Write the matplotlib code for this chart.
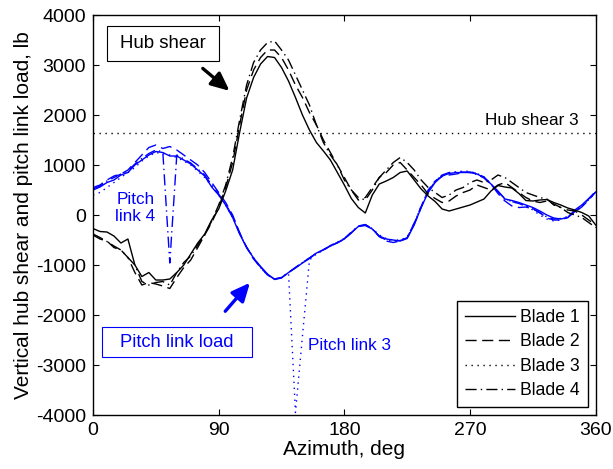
import numpy as np
import matplotlib
matplotlib.use("Agg")
import matplotlib.pyplot as plt
from matplotlib.patches import Rectangle

plt.rcParams['font.family'] = ['Liberation Sans', 'DejaVu Sans']
plt.rcParams['axes.unicode_minus'] = False

# azimuth grid, deg
azimuth = np.arange(0, 361, 5)

# vertical hub shear, lb (blade 3 only available as a constant level)
hub_blade1 = [-270, -330, -340, -420, -560, -480, -1000, -1230, -1150, -1300,
              -1300, -1280, -1150, -1000, -780, -560, -380, -100, 120, 480,
              900, 1650, 2340, 2750, 3020, 3170, 3150, 2950, 2680, 2350,
              2000, 1700, 1450, 1280, 1100, 850, 600, 330, 150, 40,
              400, 620, 680, 750, 850, 880, 700, 520, 380, 270,
              120, 80, 120, 160, 200, 260, 320, 480, 590, 560,
              540, 430, 290, 280, 300, 310, 250, 200, 140, 100,
              50, -20, -200]
hub_blade2 = [-400, -480, -520, -650, -700, -850, -1150, -1400, -1350, -1380,
              -1420, -1470, -1250, -1050, -900, -650, -400, -150, 150, 550,
              1050, 1800, 2500, 2900, 3150, 3300, 3300, 3150, 2900, 2600,
              2350, 2050, 1800, 1500, 1250, 1000, 750, 500, 300, 350,
              550, 750, 850, 1000, 1050, 900, 750, 600, 420, 330,
              250, 280, 380, 450, 500, 600, 550, 500, 600, 650,
              550, 450, 350, 280, 250, 280, 220, 150, 100, 80,
              0, -100, -200]
hub_blade3 = 1650
hub_blade4 = [-380, -450, -530, -620, -700, -850, -1000, -1330, -1400, -1350,
              -1330, -1400, -1150, -950, -820, -600, -400, -120, 200, 600,
              1150, 1900, 2600, 3050, 3300, 3450, 3480, 3300, 3100, 2800,
              2500, 2200, 1800, 1450, 1200, 1000, 700, 500, 350, 300,
              500, 750, 900, 1050, 1150, 1050, 900, 700, 550, 450,
              350, 400, 500, 550, 650, 700, 650, 700, 800, 750,
              650, 550, 450, 400, 350, 320, 200, 150, 50, 0,
              -50, -150, -250]

# pitch link load, lb
pl_blade1 = [500, 560, 650, 700, 800, 850, 1000, 1100, 1200, 1270,
             1250, 1180, 1180, 1100, 1020, 900, 780, 560, 400, 200,
             -50, -380, -650, -860, -1030, -1180, -1290, -1260, -1150, -1060,
             -960, -870, -760, -700, -620, -550, -480, -350, -230, -210,
             -280, -420, -480, -500, -520, -470, -200, 150, 450, 650,
             780, 830, 850, 850, 850, 820, 750, 620, 480, 320,
             290, 250, 200, 150, 80, 0, -60, -80, -50, 100,
             200, 330, 460]
pl_blade2 = [550, 600, 700, 780, 820, 900, 1050, 1200, 1350, 1400,
             1330, 1370, 1300, 1200, 1100, 1000, 850, 650, 450, 250,
             0, -350, -650, -880, -1050, -1200, -1280, -1250, -1150, -1050,
             -950, -860, -770, -690, -620, -560, -480, -360, -220, -190,
             -270, -430, -520, -550, -520, -450, -180, 150, 500, 680,
             770, 800, 820, 850, 860, 830, 760, 620, 430, 280,
             180, 150, 160, 120, 50, -60, -100, -100, -50, 60,
             160, 300, 460]
pl_blade3 = [400, 450, 550, 650, 750, 850, 950, 1080, 1180, 1250,
             1230, 1200, 1150, 1080, 1000, 880, 750, 580, 400, 200,
             -50, -350, -650, -850, -1050, -1200, -1280, -1250, -1150, -3950,
             -2420, -900, -780, -700, -620, -550, -480, -350, -230, -200,
             -270, -400, -470, -500, -500, -440, -170, 180, 480, 680,
             790, 830, 860, 880, 870, 830, 760, 620, 470, 320,
             270, 230, 180, 100, 0, -80, -120, -100, -30, 70,
             170, 310, 450]
pl_blade4 = [520, 580, 680, 750, 820, 880, 1020, 1130, 1230, 1300,
             1260, -960, 1200, 1120, 1040, 920, 800, 600, 420, 220,
             -30, -370, -640, -870, -1040, -1190, -1280, -1250, -1150, -1050,
             -950, -860, -760, -700, -610, -540, -470, -340, -220, -200,
             -280, -430, -500, -520, -510, -460, -160, 170, 470, 670,
             800, 850, 860, 860, 850, 810, 740, 610, 460, 330,
             270, 230, 180, 130, 40, -40, -80, -70, -30, 70,
             170, 320, 480]

blade_labels = ['Blade 1', 'Blade 2', 'Blade 3', 'Blade 4']

styles = [
    '-',
    (0, (8, 4)),
    (0, (1, 3.3)),
    (0, (8, 3, 1, 3)),
]
blue = '#0000ff'
lw = 1.0

fig = plt.figure(figsize=(6.13, 4.69), dpi=100)
ax = fig.add_axes([0.1517, 0.1151, 0.8201, 0.8529])

# pitch link loads
for vals, ls in zip([pl_blade1, pl_blade2, pl_blade3, pl_blade4], styles):
    ax.plot(azimuth, vals, color=blue, linestyle=ls, linewidth=lw)

# hub shear
ax.plot(azimuth, hub_blade1, color='k', linestyle=styles[0], linewidth=lw, label=blade_labels[0])
ax.plot(azimuth, hub_blade2, color='k', linestyle=styles[1], linewidth=lw, label=blade_labels[1])
ax.plot([0, 360], [hub_blade3, hub_blade3], color='k', linestyle=styles[2], linewidth=lw,
        label=blade_labels[2])
ax.plot(azimuth, hub_blade4, color='k', linestyle=styles[3], linewidth=lw, label=blade_labels[3])

ax.set_xlim(0, 360)
ax.set_ylim(-4000, 4000)
ax.set_xticks([0, 90, 180, 270, 360])
ax.set_yticks(np.arange(-4000, 4001, 1000))
ax.tick_params(direction='in', top=True, right=True, length=4, width=0.8, labelsize=14, pad=5)
for sp in ax.spines.values():
    sp.set_linewidth(1.0)
ax.set_xlabel('Azimuth, deg', fontsize=15, labelpad=1)
ax.set_ylabel('Vertical hub shear and pitch link load, lb', fontsize=15, labelpad=2)

leg = ax.legend(loc='lower right', fontsize=12.7, frameon=True, fancybox=False,
                edgecolor='k', framealpha=1, handlelength=2.8, labelspacing=0.42,
                handletextpad=0.3, borderpad=0.45, borderaxespad=0.45)
leg.get_frame().set_linewidth(1.0)

# annotations
ax.add_patch(Rectangle((9.8, 3086), 80.6, 694, fc='white', ec='k', lw=0.8, zorder=4))
ax.text(50, 3434, 'Hub shear', fontsize=13.4, ha='center', va='center', zorder=5)
ax.annotate('', xy=(99.3, 2447), xytext=(77.1, 2967),
            arrowprops=dict(arrowstyle='-|>,head_length=1.1,head_width=0.5', color='k', lw=2.4))
ax.text(281, 1890, 'Hub shear 3', fontsize=12.3, ha='left', va='center')

ax.add_patch(Rectangle((6.2, -2846), 107.5, 600, fc='white', ec=blue, lw=0.8, zorder=4))
ax.text(60, -2547, 'Pitch link load', fontsize=13.2, color=blue, ha='center', va='center', zorder=5)
ax.annotate('', xy=(113.7, -1313), xytext=(93.4, -1967),
            arrowprops=dict(arrowstyle='-|>,head_length=1.1,head_width=0.5', color=blue, lw=2.4))
ax.text(154, -2613, 'Pitch link 3', fontsize=12.3, color=blue, ha='left', va='center')
ax.text(30.3, 140, 'Pitch\nlink 4', fontsize=12.3, color=blue, ha='center', va='center',
        linespacing=1.15)

fig.savefig('out.png', dpi=100, facecolor='white')
